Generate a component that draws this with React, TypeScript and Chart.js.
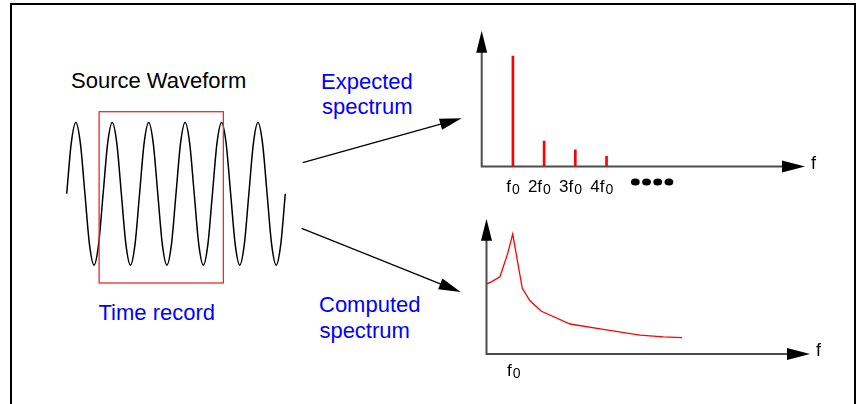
import React, { useEffect, useRef } from "react";
import { Chart, registerables } from "chart.js";

Chart.register(...registerables);

// ---------- Source waveform (time in periods of f0, level relative to peak) ----------
const waveTime = [
  0, 0.125, 0.25, 0.375, 0.5, 0.625, 0.75, 0.875,
  1, 1.125, 1.25, 1.375, 1.5, 1.625, 1.75, 1.875,
  2, 2.125, 2.25, 2.375, 2.5, 2.625, 2.75, 2.875,
  3, 3.125, 3.25, 3.375, 3.5, 3.625, 3.75, 3.875,
  4, 4.125, 4.25, 4.375, 4.5, 4.625, 4.75, 4.875,
  5, 5.125, 5.25, 5.375, 5.5, 5.625, 5.75, 5.875,
  6,
];
const waveLevel = [
  0, 0.71, 1, 0.71, 0, -0.71, -1, -0.71,
  0, 0.71, 1, 0.71, 0, -0.71, -1, -0.71,
  0, 0.71, 1, 0.71, 0, -0.71, -1, -0.71,
  0, 0.71, 1, 0.71, 0, -0.71, -1, -0.71,
  0, 0.71, 1, 0.71, 0, -0.71, -1, -0.71,
  0, 0.71, 1, 0.71, 0, -0.71, -1, -0.71,
  0,
];
// time record window (same units)
const recordStart = 0.89;
const recordEnd = 4.3;
const recordTop = 1.15;
const recordBottom = -1.25;

// ---------- Expected spectrum ----------
const harmonicNumbers = [1, 2, 3, 4];
const harmonicPrefixes = ["", "2", "3", "4"];
const expectedAmplitude = [1, 0.23, 0.152, 0.092];
const expectedAxisMaxX = 10.36;
const expectedAxisMaxY = 1.23;

// ---------- Computed spectrum (frequency in units of f0) ----------
const computedFreq = [0, 0.2, 0.515, 0.81, 1, 1.366, 1.66, 2.08, 3.19, 4.46, 5.86, 6.75, 7.47];
const computedLevel = [0.583, 0.603, 0.644, 0.839, 1, 0.548, 0.444, 0.358, 0.25, 0.206, 0.158, 0.142, 0.136];
const computedTicks = [1];
const computedAxisMaxX = 12.35;
const computedAxisMaxY = 1.127;

const FONT = '"Liberation Sans", Arial, Helvetica, sans-serif';
const TEXT_SIZE = 22;

function drawFLabel(ctx: CanvasRenderingContext2D, prefix: string, cx: number, baseline: number) {
  ctx.font = `17px ${FONT}`;
  const fW = ctx.measureText("f").width;
  ctx.font = `14px ${FONT}`;
  const zW = ctx.measureText("0").width;
  const start = cx - (fW + 1 + zW) / 2;
  ctx.fillStyle = "#000";
  ctx.textBaseline = "alphabetic";
  ctx.font = `17px ${FONT}`;
  if (prefix) {
    ctx.textAlign = "right";
    ctx.fillText(prefix, start, baseline);
  }
  ctx.textAlign = "left";
  ctx.fillText("f", start, baseline);
  ctx.font = `14px ${FONT}`;
  ctx.fillText("0", start + fW + 1, baseline + 2.5);
}

const arrowAxesPlugin = {
  id: "arrowAxes",
  beforeDatasetsDraw(chart: any) {
    const { ctx, chartArea } = chart;
    const { top, right } = chartArea;
    const x0 = chart.scales.x.getPixelForValue(0);
    const y0 = chart.scales.y.getPixelForValue(0);
    ctx.save();
    ctx.strokeStyle = "#4d4d4d";
    ctx.lineWidth = 2;
    ctx.beginPath();
    ctx.moveTo(x0, y0 + 1);
    ctx.lineTo(x0, top + 20);
    ctx.moveTo(x0 - 1, y0);
    ctx.lineTo(right - 20, y0);
    ctx.stroke();
    ctx.fillStyle = "#000";
    ctx.beginPath();
    ctx.moveTo(x0, top);
    ctx.lineTo(x0 - 5.5, top + 22);
    ctx.lineTo(x0 + 5.5, top + 22);
    ctx.closePath();
    ctx.fill();
    ctx.beginPath();
    ctx.moveTo(right, y0);
    ctx.lineTo(right - 23, y0 - 6);
    ctx.lineTo(right - 23, y0 + 6);
    ctx.closePath();
    ctx.fill();
    // axis name
    ctx.font = `18px ${FONT}`;
    ctx.textAlign = "left";
    ctx.textBaseline = "alphabetic";
    ctx.fillText("f", right + 6, y0 + 2.2);
    ctx.restore();
  },
};

const baseOptions = (padding: any, xMax: number, yMin: number, yMax: number) => ({
  responsive: false,
  animation: false as const,
  events: [] as any[],
  layout: { padding },
  plugins: { legend: { display: false }, tooltip: { enabled: false }, title: { display: false } },
  scales: {
    x: { type: "linear" as const, min: 0, max: xMax, display: false, offset: false },
    y: { type: "linear" as const, min: yMin, max: yMax, display: false },
  },
});

function WaveChart() {
  const ref = useRef<HTMLCanvasElement>(null);
  useEffect(() => {
    const recordPlugin = {
      id: "record",
      afterDatasetsDraw(chart: any) {
        const { ctx } = chart;
        const { x, y } = chart.scales;
        const l = x.getPixelForValue(recordStart);
        const r = x.getPixelForValue(recordEnd);
        const t = y.getPixelForValue(recordTop);
        const b = y.getPixelForValue(recordBottom);
        ctx.save();
        ctx.strokeStyle = "#f02828";
        ctx.lineWidth = 1.3;
        ctx.strokeRect(l, t, r - l, b - t);
        ctx.restore();
      },
    };
    const chart = new Chart(ref.current!, {
      type: "line",
      data: {
        datasets: [
          {
            data: waveTime.map((t, i) => ({ x: t, y: waveLevel[i] })),
            borderColor: "#000",
            borderWidth: 1.5,
            pointRadius: 0,
            cubicInterpolationMode: "monotone",
            clip: false as any,
          },
        ],
      },
      options: baseOptions({ left: 6.7, right: 6.7, top: 11.7, bottom: 17 }, 6, recordBottom, recordTop) as any,
      plugins: [recordPlugin],
    });
    return () => chart.destroy();
  }, []);
  return (
    <canvas
      ref={ref}
      width={232}
      height={200}
      style={{ position: "absolute", left: 60, top: 100, width: 232, height: 200 }}
    />
  );
}

function ExpectedChart() {
  const ref = useRef<HTMLCanvasElement>(null);
  useEffect(() => {
    const labelPlugin = {
      id: "harmLabels",
      afterDraw(chart: any) {
        const { ctx } = chart;
        const { x, y } = chart.scales;
        const y0 = y.getPixelForValue(0);
        ctx.save();
        harmonicNumbers.forEach((n, i) => {
          drawFLabel(ctx, harmonicPrefixes[i], x.getPixelForValue(n), y0 + 25.2);
        });
        // continuation dots
        const lastX = x.getPixelForValue(harmonicNumbers[harmonicNumbers.length - 1]);
        ctx.fillStyle = "#000";
        for (let k = 0; k < 4; k++) {
          ctx.beginPath();
          ctx.ellipse(lastX + 28.8 + k * 11.2, y0 + 15.5, 4.4, 3.6, 0, 0, Math.PI * 2);
          ctx.fill();
        }
        ctx.restore();
      },
    };
    const chart = new Chart(ref.current!, {
      type: "bar",
      data: {
        datasets: [
          {
            data: harmonicNumbers.map((n, i) => ({ x: n, y: expectedAmplitude[i] })) as any,
            backgroundColor: "#ff0000",
            borderWidth: 0,
            barThickness: 2,
            grouped: false,
          },
        ],
      },
      options: baseOptions({ left: 11.7, right: 35, top: 10.7, bottom: 33.5 }, expectedAxisMaxX, 0, expectedAxisMaxY) as any,
      plugins: [arrowAxesPlugin, labelPlugin],
    });
    return () => chart.destroy();
  }, []);
  return (
    <canvas
      ref={ref}
      width={370}
      height={180}
      style={{ position: "absolute", left: 470, top: 20, width: 370, height: 180 }}
    />
  );
}

function ComputedChart() {
  const ref = useRef<HTMLCanvasElement>(null);
  useEffect(() => {
    const labelPlugin = {
      id: "compLabels",
      afterDraw(chart: any) {
        const { ctx } = chart;
        const { x, y } = chart.scales;
        const y0 = y.getPixelForValue(0);
        ctx.save();
        computedTicks.forEach((n) => drawFLabel(ctx, "", x.getPixelForValue(n) + 1, y0 + 21.5));
        ctx.restore();
      },
    };
    const chart = new Chart(ref.current!, {
      type: "line",
      data: {
        datasets: [
          {
            data: computedFreq.map((f, i) => ({ x: f, y: computedLevel[i] })),
            borderColor: "#ff0000",
            borderWidth: 1.3,
            pointRadius: 0,
            tension: 0,
            clip: false as any,
          },
        ],
      },
      options: baseOptions({ left: 16.5, right: 35, top: 13.8, bottom: 36 }, computedAxisMaxX, 0, computedAxisMaxY) as any,
      plugins: [arrowAxesPlugin, labelPlugin],
    });
    return () => chart.destroy();
  }, []);
  return (
    <canvas
      ref={ref}
      width={375}
      height={185}
      style={{ position: "absolute", left: 470, top: 205, width: 375, height: 185 }}
    />
  );
}

function arrowPoints(x1: number, y1: number, x2: number, y2: number, len: number, half: number) {
  const dx = x2 - x1;
  const dy = y2 - y1;
  const d = Math.hypot(dx, dy);
  const ux = dx / d;
  const uy = dy / d;
  const bx = x2 - ux * len;
  const by = y2 - uy * len;
  return {
    base: [bx + ux * 2, by + uy * 2],
    poly: `${x2},${y2} ${bx - uy * half},${by + ux * half} ${bx + uy * half},${by - ux * half}`,
  };
}

function Arrow({ x1, y1, x2, y2 }: { x1: number; y1: number; x2: number; y2: number }) {
  const a = arrowPoints(x1, y1, x2, y2, 22, 5.8);
  return (
    <g>
      <line x1={x1} y1={y1} x2={a.base[0]} y2={a.base[1]} stroke="#000" strokeWidth={1.3} />
      <polygon points={a.poly} fill="#000" />
    </g>
  );
}

const textStyle = (left: number, baseline: number, color: string): React.CSSProperties => ({
  position: "absolute",
  left,
  top: baseline - 0.8465 * TEXT_SIZE,
  fontFamily: FONT,
  fontSize: `${TEXT_SIZE}px`,
  lineHeight: `${TEXT_SIZE}px`,
  color,
  whiteSpace: "nowrap",
});

export default function App() {
  return (
    <div
      style={{
        position: "absolute",
        left: 0,
        top: 0,
        width: 857,
        height: 404,
        background: "#fff",
        overflow: "hidden",
      }}
    >
      <svg width={857} height={404} style={{ position: "absolute", left: 0, top: 0 }}>
        <path d="M11,404 V4 H855 V404" fill="none" stroke="#000" strokeWidth={2} />
        <Arrow x1={302.7} y1={162.7} x2={461.7} y2={118.3} />
        <Arrow x1={301.7} y1={228.3} x2={460.7} y2={292} />
      </svg>
      <div style={textStyle(71, 89, "#000")}>Source Waveform</div>
      <div style={textStyle(98.5, 320.7, "#0000ff")}>Time record</div>
      <div style={textStyle(321, 89.3, "#0000ff")}>Expected</div>
      <div style={textStyle(322, 114.5, "#0000ff")}>spectrum</div>
      <div style={textStyle(319, 312.3, "#0000ff")}>Computed</div>
      <div style={textStyle(319.4, 338.5, "#0000ff")}>spectrum</div>
      <WaveChart />
      <ExpectedChart />
      <ComputedChart />
    </div>
  );
}
